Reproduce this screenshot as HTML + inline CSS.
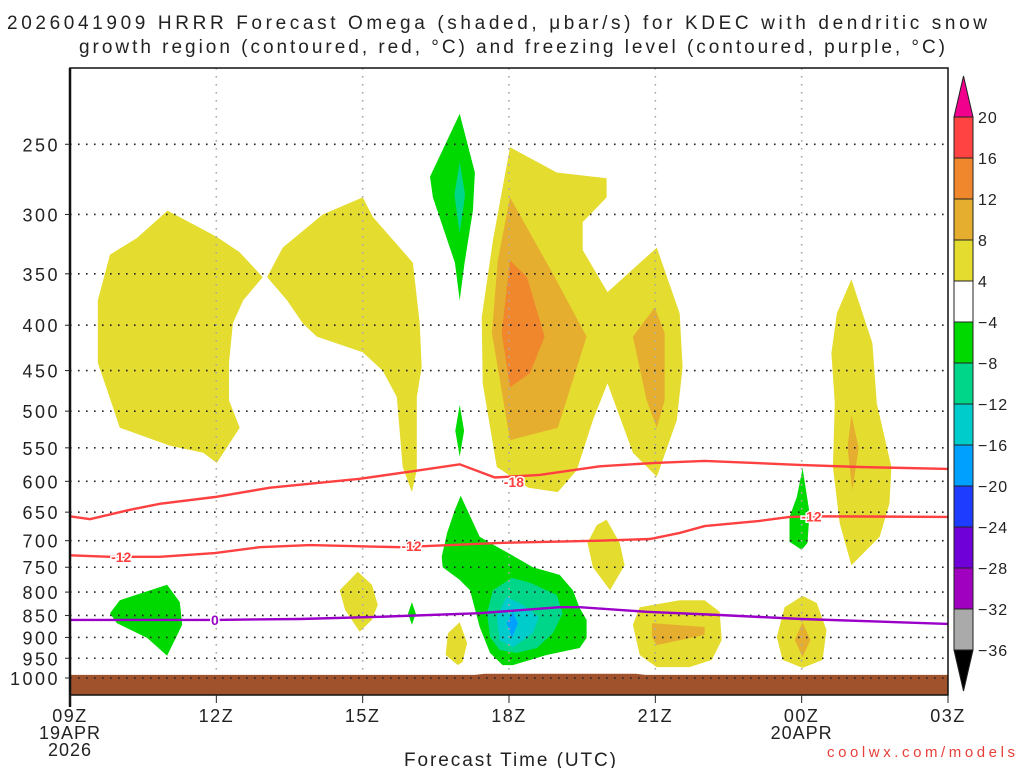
<!DOCTYPE html>
<html><head><meta charset="utf-8"><style>
html,body{margin:0;padding:0;background:#fff;}
svg{display:block;font-family:"Liberation Sans",sans-serif;}
</style></head><body>
<svg id="chart" width="1024" height="768" viewBox="0 0 1024 768" xmlns="http://www.w3.org/2000/svg">
<text x="497" y="29" text-anchor="middle" font-size="19" textLength="980" lengthAdjust="spacing" fill="#222">2026041909 HRRR Forecast Omega (shaded, μbar/s) for KDEC with dendritic snow</text>
<text x="512" y="53" text-anchor="middle" font-size="19" textLength="866" lengthAdjust="spacing" fill="#222">growth region (contoured, red, °C) and freezing level (contoured, purple, °C)</text>
<g id="shade"></g>
<g id="grid"></g>
<g id="surface"></g>
<g id="lines"></g>
<g id="axes"></g>
<g id="cbar"></g>
<text x="510" y="766" text-anchor="middle" font-size="19" textLength="212" lengthAdjust="spacing" fill="#222">Forecast Time (UTC)</text>
<text x="1015" y="757" text-anchor="end" font-size="15" textLength="188" lengthAdjust="spacing" fill="#e8403a">coolwx.com/models</text>
</svg>
<script>
// ---- data ----
const pressureTicks=[250,300,350,400,450,500,550,600,650,700,750,800,850,900,950,1000];
const timeTickHours=[0,3,6,9,12,15,18];
const timeTickLabels=["09Z","12Z","15Z","18Z","21Z","00Z","03Z"];
const colorbarLevels=[20,16,12,8,4,-4,-8,-12,-16,-20,-24,-28,-32,-36];
const colorbarColors=["#ff4242","#f0872c","#e5ae2e","#e5dc30","#ffffff","#00d900","#00d68a","#00cccc","#00a0ff","#1e3cff","#7000d8","#a000c0","#aaaaaa"];
// shaded omega regions: [hour since 09Z, hPa]
const yellowRegions=[
 [[2.0,297],[3.01,318],[3.48,331],[3.95,353],[3.55,375],[3.34,398],[3.26,441],[3.26,486],[3.48,522],[3.01,572],[2.73,557],[2.05,547],[1.02,522],[0.76,473],[0.57,441],[0.57,375],[0.82,333],[1.37,319]],
 [[4.04,353],[4.36,327],[5.18,300],[6.0,287],[6.21,302],[7.03,340],[7.17,398],[7.21,446],[7.11,482],[7.11,583],[7.01,617],[6.82,578],[6.70,482],[6.41,450],[6.0,429],[5.06,412],[4.77,398],[4.45,375]],
 [[9.02,252],[9.98,269],[11.0,273],[11.0,287],[10.51,306],[10.51,329],[11.02,367],[12.03,327],[12.5,388],[12.56,446],[12.44,512],[12.03,593],[11.54,557],[11.02,465],[10.72,512],[10.39,583],[10.0,617],[9.4,610],[8.75,578],[8.46,465],[8.44,392],[8.67,321]],
 [[7.99,865],[8.14,913],[8.05,959],[7.95,967],[7.70,942],[7.75,890]],
 [[11.0,663],[11.27,704],[11.37,746],[11.07,796],[10.72,750],[10.61,704],[10.80,672]],
 [[11.54,871],[11.68,832],[12.5,817],[13.01,817],[13.32,842],[13.36,906],[13.16,954],[12.70,972],[12.03,972],[11.68,942]],
 [[16.02,355],[16.45,419],[16.54,490],[16.84,578],[16.80,635],[16.60,693],[16.02,746],[15.78,669],[15.64,578],[15.68,490],[15.61,430],[15.72,388]],
 [[15.02,808],[15.31,823],[15.51,883],[15.43,954],[15.02,974],[14.61,954],[14.49,899],[14.65,832]],
 [[5.90,759],[6.19,785],[6.31,827],[6.19,860],[5.94,887],[5.64,838],[5.53,796]]
];
const amberRegions=[
 [[9.02,287],[9.90,350],[10.59,412],[10.0,522],[9.02,539],[8.65,408],[8.77,338]],
 [[11.99,382],[12.19,408],[12.19,486],[12.03,522],[11.82,486],[11.54,412]],
 [[11.93,867],[13.01,876],[13.01,894],[12.03,918],[11.93,899]],
 [[16.02,505],[16.17,550],[16.04,614],[15.94,550]],
 [[15.02,865],[15.18,906],[15.02,947],[14.86,906]]
];
const orangeRegions=[[[9.02,338],[9.37,353],[9.73,412],[9.43,453],[9.02,470],[8.85,408]]];
const greenRegions=[
 [[7.99,231],[8.30,269],[8.26,297],[8.09,340],[7.99,375],[7.89,340],[7.44,287],[7.38,272]],
 [[7.99,492],[8.08,526],[7.99,563],[7.90,526]],
 [[8.01,623],[8.40,693],[8.61,704],[8.95,721],[9.49,750],[10.04,765],[10.31,796],[10.45,834],[10.59,860],[10.59,901],[10.45,925],[9.77,942],[9.08,967],[8.87,967],[8.61,937],[8.40,876],[8.20,796],[7.99,775],[7.64,750],[7.62,730],[7.73,686],[7.89,646]],
 [[7.01,821],[7.09,846],[7.01,871],[6.93,846]],
 [[15.02,580],[15.16,651],[15.12,704],[15.0,717],[14.75,702],[14.75,658],[14.90,625]],
 [[0.82,845],[1.02,817],[1.99,785],[2.25,821],[2.30,871],[1.99,944],[1.58,901],[0.96,867]]
];
const tealRegions=[
 [[7.99,262],[8.1,285],[7.99,315],[7.88,285]],
 [[9.06,771],[9.43,781],[9.98,806],[10.10,845],[9.90,890],[9.57,925],[9.16,937],[8.81,930],[8.61,899],[8.55,845],[8.67,796]]
];
const cyanRegions=[[[8.95,810],[9.28,827],[9.61,853],[9.49,890],[9.08,923],[8.81,906],[8.75,853]]];
const blueRegions=[[[9.08,842],[9.18,867],[9.06,901],[8.95,867]]];
// contour lines
const lineHours18=[0,0.41,1.23,1.84,2.97,4.10,5.94,7.07,7.99,8.71,9.63,10.86,11.99,13.01,14.96,16.19,18];
const lineP18=[657,662,646,636,625,610,596,584,574,594,590,577,572,569,575,578,581];
const lineHours12=[0,0.82,1.84,2.97,3.89,4.92,6.76,7.79,8.81,10.86,11.89,12.5,13.01,14.14,14.75,15.37,18];
const lineP12=[727,730,730,723,712,708,712,708,704,700,697,686,674,665,658,657,658];
const lineHours0=[0,2.97,4.71,6.35,8.40,10.04,10.45,11.82,13.32,15.0,18];
const lineP0=[860,860,858,853,845,832,832,842,849,858,869];
const contourLabelText=["-18","-12","-12","-12","0"];
const contourLabelHour=[9.1,1.05,7.0,15.2,2.97];
const contourLabelP=[601,730,710,657,860];
const contourLabelColor=["#ff4040","#ff4040","#ff4040","#ff4040","#9a00c8"];
const surfaceHours=[0,8.3,8.5,11.6,11.8,18];
const surfaceP=[992,992,989,989,992,992];

// ---- axes ----
const X0=70,X1=948,YT=68,YB=695;
const X=h=>X0+h*(X1-X0)/18;
const Y=p=>678-385*Math.log(1000/p);
const NS="http://www.w3.org/2000/svg";
function mk(tag,parent,attrs){const e=document.createElementNS(NS,tag);for(const k in attrs)e.setAttribute(k,attrs[k]);parent.appendChild(e);return e;}
const gS=document.getElementById('shade'),gG=document.getElementById('grid'),gSf=document.getElementById('surface'),gL=document.getElementById('lines'),gA=document.getElementById('axes'),gC=document.getElementById('cbar');
function poly(set,color,name){set.forEach(r=>{const e=mk('polygon',gS,{points:r.map(d=>X(d[0]).toFixed(1)+','+Y(d[1]).toFixed(1)).join(' '),fill:color});

});}
poly(yellowRegions,"#e5dc30","omega-4-8-region");
poly(amberRegions,"#e5ae2e","omega-8-12-region");
poly(orangeRegions,"#f0872c","omega-12-16-region");
poly(greenRegions,"#00d900","omega-neg4-neg8-region");
poly(tealRegions,"#00d68a","omega-neg8-neg12-region");
poly(cyanRegions,"#00cccc","omega-neg12-neg16-region");
poly(blueRegions,"#00a0ff","omega-neg16-neg20-region");
// grid
pressureTicks.forEach(p=>{const l=mk('line',gG,{x1:X0,x2:X1,y1:Y(p),y2:Y(p),stroke:"#222","stroke-width":1.6,"stroke-dasharray":"1.6 6.4"});

});
timeTickHours.slice(1,-1).forEach(h=>{const l=mk('line',gG,{x1:X(h),x2:X(h),y1:YT,y2:YB,stroke:"#aaa","stroke-width":1.6,"stroke-dasharray":"1.6 6.4"});

});
// surface
let sp='';surfaceHours.forEach((h,i)=>sp+=(i?'L':'M')+X(h)+','+Y(surfaceP[i]));sp+='L'+X1+','+YB+'L'+X0+','+YB+'Z';
const sf=mk('path',gSf,{d:sp,fill:"#a0522d"});


pressureTicks.slice(-1).forEach(p=>{const l=mk('line',gSf,{x1:X0,x2:X1,y1:Y(p),y2:Y(p),stroke:"#222","stroke-width":1.6,"stroke-dasharray":"1.6 6.4"});

});
// contour lines
function cl(hs,ps,color,name){const d=hs.map((h,i)=>(i?'L':'M')+X(h).toFixed(1)+','+Y(ps[i]).toFixed(1)).join('');const e=mk('path',gL,{d:d,fill:'none',stroke:color,'stroke-width':2.4});

}
cl(lineHours18,lineP18,"#ff4040","contour-minus-18");
cl(lineHours12,lineP12,"#ff4040","contour-minus-12");
cl(lineHours0,lineP0,"#9a00c8","freezing-level-0");
contourLabelText.forEach((t,i)=>{const e=mk('text',gL,{x:X(contourLabelHour[i]),y:Y(contourLabelP[i])+5,'text-anchor':'middle','font-size':14,'font-weight':'bold',fill:contourLabelColor[i],stroke:'#fff','stroke-width':3,'paint-order':'stroke'});e.textContent=t;

});
// frame
const fr=mk('rect',gA,{x:X0,y:YT,width:X1-X0,height:YB-YT,fill:'none',stroke:'#111','stroke-width':1.5});


const la=mk('line',gA,{x1:X0,x2:X0,y1:YT,y2:YB+12,stroke:'#111','stroke-width':2.5});


pressureTicks.forEach(p=>{const t=mk('text',gA,{x:60,y:Y(p)+7,'text-anchor':'end','font-size':18,'letter-spacing':2.5,fill:'#222'});t.textContent=p;


const k=mk('line',gA,{x1:X0-5,x2:X0,y1:Y(p),y2:Y(p),stroke:'#222'});

});
timeTickHours.forEach((h,i)=>{const t=mk('text',gA,{x:X(h),y:722,'text-anchor':'middle','font-size':18,'letter-spacing':1.5,fill:'#222'});t.textContent=timeTickLabels[i];


const k=mk('line',gA,{x1:X(h),x2:X(h),y1:YB,y2:YB+8,stroke:'#222'});

});
[["19APR",0,739],["2026",0,756],["20APR",15,739]].forEach(a=>{const t=mk('text',gA,{x:X(a[1]),y:a[2],'text-anchor':'middle','font-size':18,'letter-spacing':1,fill:'#222'});t.textContent=a[0];

});
// colorbar
const CBX=954,CBW=19,CBT=117,CBB=650,step=(CBB-CBT)/colorbarColors.length;
const tt=mk('polygon',gC,{points:`${CBX},${CBT} ${CBX+CBW},${CBT} ${CBX+CBW/2},${CBT-41}`,fill:'#f0008c',stroke:'#222'});


colorbarColors.forEach((c,i)=>{const r=mk('rect',gC,{x:CBX,y:CBT+i*step,width:CBW,height:step,fill:c,stroke:'#222'});

});
const bt=mk('polygon',gC,{points:`${CBX},${CBB} ${CBX+CBW},${CBB} ${CBX+CBW/2},${CBB+41}`,fill:'#000',stroke:'#222'});


colorbarLevels.forEach((v,i)=>{const t=mk('text',gC,{x:978,y:CBT+i*step+6,'font-size':16,'letter-spacing':1,fill:'#222'});t.textContent=v<0?'\u2212'+(-v):String(v);

});
</script>
</body></html>
